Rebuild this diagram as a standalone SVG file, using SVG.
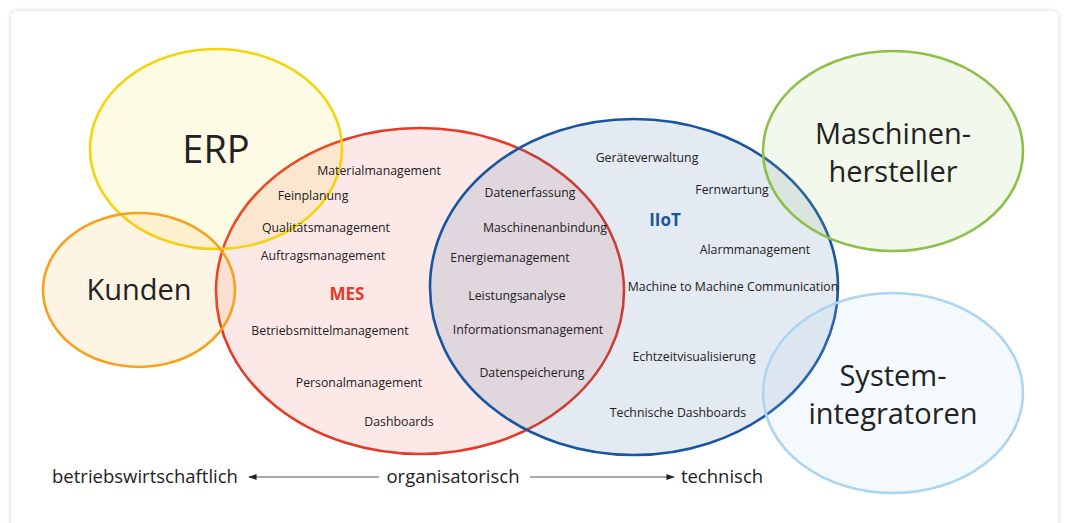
<svg xmlns="http://www.w3.org/2000/svg" width="1066" height="523" viewBox="0 0 1066 523">
<defs>
<filter id="sh" x="-5%" y="-5%" width="110%" height="110%"><feDropShadow dx="0" dy="0" stdDeviation="2.5" flood-color="#000" flood-opacity="0.18"/></filter>
<marker id="ah" viewBox="0 0 10 10" refX="9" refY="5" markerWidth="7" markerHeight="7" orient="auto-start-reverse"><path d="M0,1.5 L10,5 L0,8.5 z" fill="#222"/></marker>
<style>
text{font-family:"Open Sans","Noto Sans",sans-serif;fill:#222;text-anchor:middle}
.s{font-size:12.3px}
.big{font-size:29px}
.ax{font-size:18.5px}
.e{stroke-width:2.6}
</style>
</defs>
<rect x="0" y="0" width="1066" height="523" fill="#ffffff"/>
<rect x="11" y="11" width="1047" height="530" rx="7" fill="#ffffff" filter="url(#sh)"/>
<g id="mes"><ellipse class="e" cx="420" cy="291" rx="204" ry="163" fill="#ea4a3a" fill-opacity="0.12" stroke="#e53a27"/></g>
<g id="iiot"><ellipse class="e" cx="634" cy="287" rx="204" ry="168" fill="#2a5f9e" fill-opacity="0.13" stroke="#1a55a0"/></g>
<g id="erp"><ellipse class="e" cx="216" cy="149" rx="126" ry="100" fill="#f7dc2a" fill-opacity="0.12" stroke="#f6d40c"/></g>
<g id="kunden"><ellipse class="e" cx="139" cy="290" rx="96" ry="77" fill="#f5a623" fill-opacity="0.12" stroke="#f5a21e"/></g>
<g id="maschinen"><ellipse class="e" cx="893" cy="151" rx="130" ry="100" fill="#a3c96a" fill-opacity="0.13" stroke="#8cc04a"/></g>
<g id="system"><ellipse class="e" cx="893" cy="393" rx="130" ry="100" fill="#a9d3f0" fill-opacity="0.13" stroke="#acd5f1"/></g>
<g id="labels">
<text x="216" y="163" style="font-size:38px">ERP</text>
<text x="139" y="300" class="big">Kunden</text>
<text x="893" y="144" class="big">Maschinen-</text>
<text x="893" y="182" class="big">hersteller</text>
<text x="893" y="386" class="big">System-</text>
<text x="893" y="424" class="big">integratoren</text>
<text x="347" y="300" style="font-size:17px;font-weight:bold;fill:#e53a27">MES</text>
<text x="665" y="226" style="font-size:17px;font-weight:bold;fill:#1a55a0">IIoT</text>
<text x="379" y="175" class="s">Materialmanagement</text>
<text x="313" y="200" class="s">Feinplanung</text>
<text x="326" y="232" class="s">Qualitätsmanagement</text>
<text x="323" y="260" class="s">Auftragsmanagement</text>
<text x="330" y="335" class="s">Betriebsmittelmanagement</text>
<text x="359" y="387" class="s">Personalmanagement</text>
<text x="399" y="426" class="s">Dashboards</text>
<text x="530" y="197" class="s">Datenerfassung</text>
<text x="545" y="232" class="s">Maschinenanbindung</text>
<text x="510" y="262" class="s">Energiemanagement</text>
<text x="517" y="300" class="s">Leistungsanalyse</text>
<text x="528" y="334" class="s">Informationsmanagement</text>
<text x="532" y="377" class="s">Datenspeicherung</text>
<text x="647" y="162" class="s">Geräteverwaltung</text>
<text x="732" y="194" class="s">Fernwartung</text>
<text x="755" y="254" class="s">Alarmmanagement</text>
<text x="733" y="291" class="s">Machine to Machine Communication</text>
<text x="694" y="361" class="s">Echtzeitvisualisierung</text>
<text x="678" y="417" class="s">Technische Dashboards</text>
<text x="145" y="483" class="ax">betriebswirtschaftlich</text>
<text x="453" y="483" class="ax">organisatorisch</text>
<text x="722" y="483" class="ax">technisch</text>
</g>
<g id="connectors" stroke="#555" stroke-width="1.2" fill="none">
<line x1="379" y1="477" x2="249" y2="477" marker-end="url(#ah)"/>
<line x1="530" y1="477" x2="674" y2="477" marker-end="url(#ah)"/>
</g>
</svg>
